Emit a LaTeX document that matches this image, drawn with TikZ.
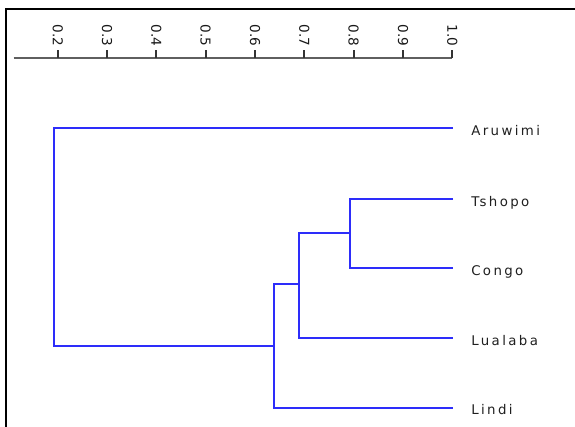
\documentclass[tikz,border=0pt]{standalone}
\usepackage{fontspec}
\setmainfont{DejaVu Sans}
\newfontfamily\leaffont[LetterSpace=18]{DejaVu Sans}
\definecolor{branchblue}{RGB}{45,45,250}
\definecolor{axisgray}{RGB}{95,95,95}
\begin{document}
\begin{tikzpicture}[x=0.75pt,y=-0.75pt,
  frameline/.style={draw=black, line width=1.6pt},
  axisline/.style={draw=axisgray, line width=1.3pt},
  tickmark/.style={draw=black!80, line width=1.3pt},
  ticklabel/.style={rotate=-90, anchor=east, inner sep=0pt, text=black!90,
    font=\fontsize{10.2}{12}\selectfont},
  branch/.style={draw=branchblue, line width=1.2pt},
  leaf/.style={anchor=base west, inner sep=0pt, text=black!88,
    font=\leaffont\fontsize{10}{12}\selectfont}]
\useasboundingbox (0,0) rectangle (575,427);

% frame
\draw[frameline] (6,427) -- (6,9) -- (575,9);

% distance axis with ticks from 0.2 to 1.0
\draw[axisline] (13.5,58) -- (452.3,58);
\foreach \v [count=\i from 0] in {0.2,0.3,0.4,0.5,0.6,0.7,0.8,0.9,1.0} {
  \pgfmathsetmacro{\tx}{57.7+\i*49.33}
  \draw[tickmark] (\tx,58) -- (\tx,50);
  \node[ticklabel] (tick\i) at (\tx,46.7) {\v};
}

% leaf labels
\node[leaf] (aruwimi) at (471,135.5) {Aruwimi};
\node[leaf] (tshopo)  at (471,206.5) {Tshopo};
\node[leaf] (congo)   at (471,275.5) {Congo};
\node[leaf] (lualaba) at (471,345.5) {Lualaba};
\node[leaf] (lindi)   at (471,415) {Lindi};

% leaf tips
\coordinate (tA)  at (453,128);
\coordinate (tT)  at (453,199);
\coordinate (tC)  at (453,268);
\coordinate (tLu) at (453,338);
\coordinate (tLi) at (453,408);

% cluster joins
\coordinate (jTC)   at (350,233);
\coordinate (jTCL)  at (299,284);
\coordinate (jAll)  at (274,346);
\coordinate (jRoot) at (54,237);

\draw[branch] (tT) -| (jTC) |- (tC);
\draw[branch] (jTC) -| (jTCL) |- (tLu);
\draw[branch] (jTCL) -| (jAll) |- (tLi);
\draw[branch] (jAll) -| (jRoot) |- (tA);
\end{tikzpicture}
\end{document}
